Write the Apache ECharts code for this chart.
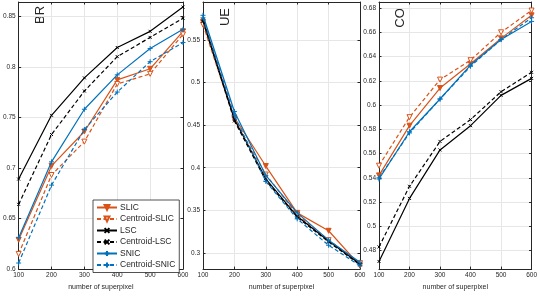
<!DOCTYPE html>
<html>
<head>
<meta charset="utf-8">
<script src="https://cdn.jsdelivr.net/npm/echarts@6/dist/echarts.min.js"></script>
<style>html,body{margin:0;padding:0;background:#fff}#c{width:540px;height:296px}</style>
</head>
<body>
<div id="c"></div>
<script>
const xs = [100, 200, 300, 400, 500, 600];
const seriesNames = ['SLIC', 'Centroid-SLIC', 'LSC', 'Centroid-LSC', 'SNIC', 'Centroid-SNIC'];
const panelTitles = ['BR', 'UE', 'CO'];
const xAxisName = 'number of superpixel';

const brSLIC  = [0.629, 0.702, 0.736, 0.787, 0.798, 0.835];
const brCSLIC = [0.615, 0.693, 0.726, 0.783, 0.793, 0.832];
const brLSC   = [0.689, 0.752, 0.789, 0.819, 0.835, 0.859];
const brCLSC  = [0.664, 0.733, 0.776, 0.810, 0.829, 0.848];
const brSNIC  = [0.631, 0.706, 0.758, 0.792, 0.818, 0.837];
const brCSNIC = [0.606, 0.683, 0.738, 0.775, 0.805, 0.824];

const ueSLIC  = [0.571, 0.459, 0.402, 0.347, 0.326, 0.285];
const ueCSLIC = [0.568, 0.457, 0.392, 0.345, 0.315, 0.288];
const ueLSC   = [0.574, 0.457, 0.387, 0.343, 0.314, 0.287];
const ueCLSC  = [0.572, 0.455, 0.385, 0.342, 0.313, 0.286];
const ueSNIC  = [0.579, 0.466, 0.391, 0.347, 0.315, 0.289];
const ueCSNIC = [0.576, 0.461, 0.384, 0.340, 0.309, 0.285];

const coSLIC  = [0.542, 0.583, 0.614, 0.634, 0.655, 0.674];
const coCSLIC = [0.550, 0.590, 0.621, 0.637, 0.660, 0.678];
const coLSC   = [0.471, 0.523, 0.563, 0.583, 0.608, 0.622];
const coCLSC  = [0.483, 0.533, 0.570, 0.588, 0.611, 0.627];
const coSNIC  = [0.539, 0.578, 0.605, 0.633, 0.654, 0.669];
const coCSNIC = [0.540, 0.577, 0.605, 0.632, 0.654, 0.672];

const brTicks = [0.6, 0.65, 0.7, 0.75, 0.8, 0.85];
const ueTicks = [0.3, 0.35, 0.4, 0.45, 0.5, 0.55];
const coTicks = [0.48, 0.5, 0.52, 0.54, 0.56, 0.58, 0.6, 0.62, 0.64, 0.66, 0.68];
const xTicks = [100, 200, 300, 400, 500, 600];

const panelData = [
  [brSLIC, brCSLIC, brLSC, brCLSC, brSNIC, brCSNIC],
  [ueSLIC, ueCSLIC, ueLSC, ueCLSC, ueSNIC, ueCSNIC],
  [coSLIC, coCSLIC, coLSC, coCLSC, coSNIC, coCSNIC]
];
const panelTicks = [brTicks, ueTicks, coTicks];
const yRanges = [[0.6, 0.864], [0.281, 0.5946], [0.4647, 0.685]];

const FONT = '"Liberation Sans", Arial, sans-serif';
const AX = '#262626';
const ORANGE = '#D95319', BLACK = '#000000', BLUE = '#0072BD';

const grids = [
  {left: 16, top: 2, width: 167, height: 273},
  {left: 203, top: 2, width: 157, height: 273},
  {left: 379, top: 2, width: 155, height: 273}
];

const plusPath = 'path://M5,0L5,10M0,5L10,5';
const xPath = 'path://M0,0L10,10M10,0L0,10';
const styles = [
  {color: ORANGE, dash: 'solid', symbol: 'triangle', rot: 180, size: 5, fill: ORANGE},
  {color: ORANGE, dash: [4, 2.5], symbol: 'triangle', rot: 180, size: 5, fill: '#fff'},
  {color: BLACK, dash: 'solid', symbol: xPath, rot: 0, size: 3, fill: BLACK},
  {color: BLACK, dash: [4, 2.5], symbol: xPath, rot: 0, size: 3, fill: BLACK},
  {color: BLUE, dash: 'solid', symbol: plusPath, rot: 0, size: 5, fill: BLUE},
  {color: BLUE, dash: [4, 2.5], symbol: plusPath, rot: 0, size: 5, fill: BLUE}
];

const xAxes = [], yAxes = [], series = [];
for (let p = 0; p < 3; p++) {
  xAxes.push({
    type: 'value', gridIndex: p, min: 100, max: 600, interval: 100, position: 'bottom',
    name: xAxisName, nameLocation: 'middle', nameGap: 12,
    nameTextStyle: {fontSize: 7, color: AX, fontFamily: FONT},
    axisLine: {show: true, lineStyle: {color: AX, width: 1}},
    axisTick: {show: true, inside: true, length: 2.5, lineStyle: {color: AX}},
    axisLabel: {fontSize: 6.5, color: AX, fontFamily: FONT, margin: 3},
    splitLine: {show: true, lineStyle: {color: '#e6e6e6', width: 1}}
  });
  yAxes.push({
    type: 'value', gridIndex: p, min: yRanges[p][0], max: yRanges[p][1], position: 'left',
    axisLine: {show: true, lineStyle: {color: AX, width: 1}},
    axisTick: {show: true, inside: true, length: 2.5, lineStyle: {color: AX}, customValues: panelTicks[p]},
    axisLabel: {fontSize: 6.5, color: AX, fontFamily: FONT, margin: 3, customValues: panelTicks[p]},
    splitLine: {show: true, lineStyle: {color: '#e6e6e6', width: 1}}
  });
}
for (let p = 0; p < 3; p++) {
  xAxes.push({
    type: 'value', gridIndex: p, min: 100, max: 600, interval: 100, position: 'top',
    axisLine: {show: true, onZero: false, lineStyle: {color: AX, width: 1}},
    axisTick: {show: true, inside: true, length: 2.5, lineStyle: {color: AX}},
    axisLabel: {show: false}, splitLine: {show: false}
  });
  yAxes.push({
    type: 'value', gridIndex: p, min: yRanges[p][0], max: yRanges[p][1], position: 'right',
    axisLine: {show: true, onZero: false, lineStyle: {color: AX, width: 1}},
    axisTick: {show: true, inside: true, length: 2.5, lineStyle: {color: AX}, customValues: panelTicks[p]},
    axisLabel: {show: false}, splitLine: {show: false}
  });
}

for (let p = 0; p < 3; p++) {
  for (let s = 0; s < 6; s++) {
    const st = styles[s];
    series.push({
      type: 'line', name: seriesNames[s], xAxisIndex: p, yAxisIndex: p,
      data: xs.map((x, i) => [x, panelData[p][s][i]]),
      symbol: st.symbol, symbolSize: st.size, symbolRotate: st.rot,
      showSymbol: true,
      lineStyle: {color: st.color, width: 1.2, type: st.dash},
      itemStyle: {color: st.fill, borderColor: st.color, borderWidth: 1},
      z: 2 + s, silent: true
    });
  }
}

const graphics = panelTitles.map((t, i) => ({
  type: 'text', x: [40, 225, 400][i], y: [15, 17, 18][i], rotation: Math.PI / 2,
  style: {text: t, fontSize: 13, fill: AX, fontFamily: FONT, align: 'center', verticalAlign: 'middle'}
}));

const chart = echarts.init(document.getElementById('c'), null, {renderer: 'canvas'});
chart.setOption({
  animation: false,
  backgroundColor: '#fff',
  grid: grids,
  xAxis: xAxes,
  yAxis: yAxes,
  series: series,
  graphic: graphics,
  legend: {
    data: seriesNames, orient: 'vertical', left: 93, top: 200,
    itemWidth: 20, itemHeight: 6, itemGap: 2.5, padding: [3, 4, 3, 3],
    backgroundColor: '#fff', borderColor: AX, borderWidth: 0.8, borderRadius: 0,
    textStyle: {fontSize: 8.5, color: AX, fontFamily: FONT, padding: [0, 0, 0, -2]},
    selectedMode: false, z: 20
  }
});
</script>
</body>
</html>
